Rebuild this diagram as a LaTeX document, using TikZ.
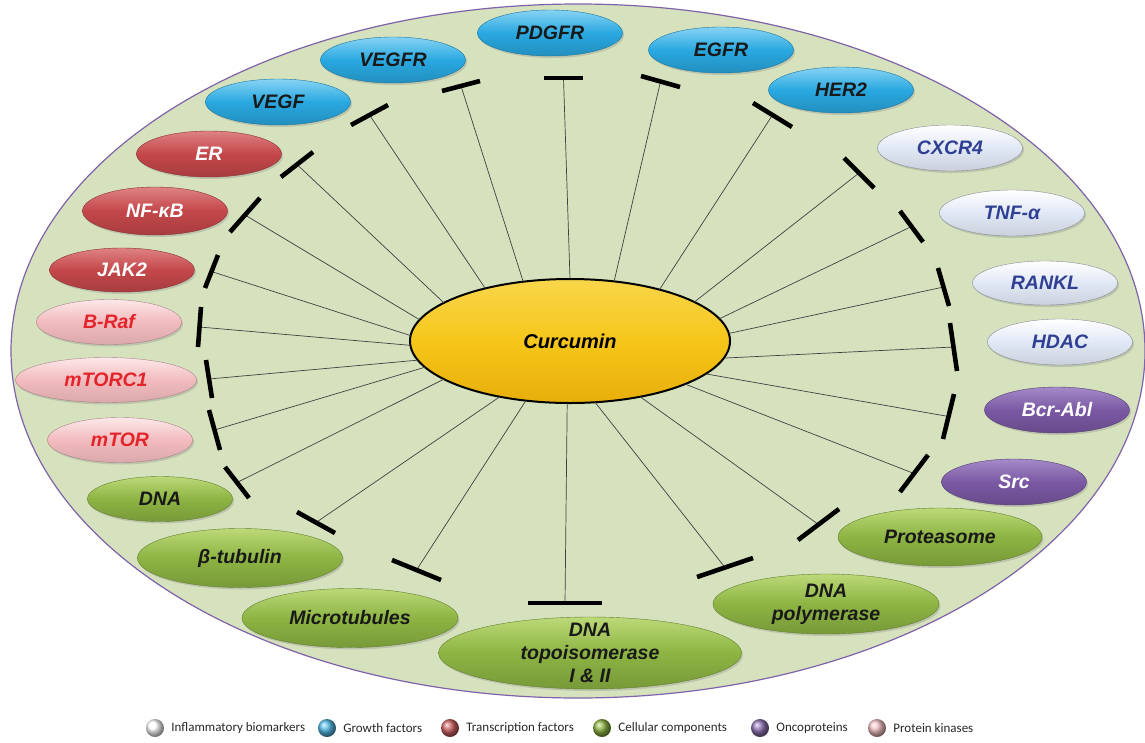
\documentclass[tikz,border=0pt]{standalone}
\usepackage{fontspec}
\setmainfont{Liberation Sans}
\newfontfamily\legfont{Carlito}
\usetikzlibrary{shapes.geometric,calc,shadows}
\definecolor{bgG}{HTML}{D6E2BE}
\definecolor{rim}{HTML}{7E63AA}
\definecolor{gfB}{HTML}{29A8E0}
\definecolor{gfL}{HTML}{86D3F4}
\definecolor{tfR}{HTML}{C4474A}
\definecolor{tfL}{HTML}{DE8283}
\definecolor{pkP}{HTML}{F2BBBE}
\definecolor{pkL}{HTML}{FCE8E9}
\definecolor{pkT}{HTML}{E3242B}
\definecolor{ibW}{HTML}{E1E8F5}
\definecolor{ibL}{HTML}{FFFFFF}
\definecolor{ibT}{HTML}{2E3F94}
\definecolor{onV}{HTML}{7A58A3}
\definecolor{onL}{HTML}{A48AC8}
\definecolor{ccG}{HTML}{8DB443}
\definecolor{ccL}{HTML}{BCD978}
\definecolor{cuY}{HTML}{F6C61A}
\definecolor{cuL}{HTML}{F9D64A}
\definecolor{cuD}{HTML}{E8AE0A}
\newcommand\myinh[6]{%
  \coordinate (#6) at ($(#2,#3)!0.5!(#4,#5)$);
  \draw[inh] ($(cur.center)+({160*cos(#1)},{-62*sin(#1)})$) -- (#6);
  \draw[inhbar] (#2,#3) -- (#4,#5);}
\begin{document}
\begin{tikzpicture}[x=1pt,y=-1pt,
  mol/.style={ellipse, inner sep=0pt, minimum width=145pt, minimum height=46pt,
    font=\fontsize{19.5}{23}\selectfont\bfseries\itshape, align=center,
    drop shadow={opacity=0.3, shadow xshift=1.5pt, shadow yshift=-2pt}},
  gf/.style={mol, draw=gfB!70!black, line width=0.4pt, top color=gfL, bottom color=gfB!85!black, middle color=gfB, text=black!90},
  tf/.style={mol, draw=tfR!70!black, line width=0.4pt, top color=tfL, bottom color=tfR!85!black, middle color=tfR, text=white},
  pk/.style={mol, draw=pkP!70!black, line width=0.4pt, top color=pkL, bottom color=pkP!90!black, middle color=pkP, text=pkT},
  ib/.style={mol, draw=ibW!60!black, line width=0.4pt, top color=ibL, bottom color=ibW!90!black, middle color=ibW, text=ibT},
  on/.style={mol, draw=onV!70!black, line width=0.4pt, top color=onL, bottom color=onV!85!black, middle color=onV, text=white},
  cc/.style={mol, draw=ccG!70!black, line width=0.4pt, top color=ccL, bottom color=ccG!85!black, middle color=ccG, text=black!90},
  inh/.style={draw=black!75, line width=0.7pt},
  inhbar/.style={draw=black, line width=4.6pt},
  legball/.style={circle, minimum size=18pt, inner sep=0pt},
  legtext/.style={anchor=west, inner sep=0pt, font=\legfont\fontsize{13}{15}\selectfont, text=black!85}]
\useasboundingbox (0,0) rectangle (1145,742);
% outer cell
\draw[fill=bgG, draw=rim, line width=1.2pt] (578,351) ellipse [x radius=567, y radius=347];
% centre
\node[ellipse, draw=black, line width=2pt, minimum width=320pt, minimum height=124pt, inner sep=0pt,
  top color=cuL, bottom color=cuD, middle color=cuY, font=\fontsize{20}{24}\selectfont\bfseries\itshape] (cur) at (570,341) {Curcumin};
% inhibition connectors
\myinh{90}{544}{78}{583}{78}{bPDGFR}
\myinh{74}{641}{76}{680}{87}{bEGFR}
\myinh{56}{753}{103}{792}{127}{bHER2}
\myinh{39}{844}{158}{874}{188}{bCXCR4}
\myinh{21}{900}{211}{923}{242}{bTNF}
\myinh{7}{938}{268}{949}{306}{bRANKL}
\myinh{-16}{950}{323}{957}{371}{bHDAC}
\myinh{-32}{954}{394}{943}{439}{bBCR}
\myinh{-44}{928}{455}{900}{492}{bSRC}
\myinh{-64}{839}{509}{798}{540}{bPROT}
\myinh{-81}{753}{558}{697}{577}{bPOL}
\myinh{-91}{602}{603}{528}{603}{bTOPO}
\myinh{-106}{441}{580}{392}{560}{bMICRO}
\myinh{-116}{335}{533}{297}{512}{bTUB}
\myinh{-142}{249}{498}{225}{467}{bDNA}
\myinh{-155}{220}{450}{209}{410}{bMTOR}
\myinh{-162}{212}{398}{206}{360}{bMTORC}
\myinh{-176}{198}{347}{201}{307}{bBRAF}
\myinh{175}{205}{288}{218}{255}{bJAK}
\myinh{160}{230}{232}{260}{198}{bNFKB}
\myinh{142}{281}{177}{313}{152}{bER}
\myinh{122}{351}{125}{388}{105}{bVEGF}
\myinh{107}{442}{91}{480}{81}{bVEGFR}
% growth factors
\node[gf] (vegf) at (278,102) {VEGF};
\node[gf] (vegfr) at (393,60) {VEGFR};
\node[gf] (pdgfr) at (550,33) {PDGFR};
\node[gf] (egfr) at (721,50) {EGFR};
\node[gf] (her2) at (841,90) {HER2};
% inflammatory biomarkers
\node[ib] (cxcr4) at (950,148) {CXCR4};
\node[ib] (tnf) at (1012,213) {TNF-α};
\node[ib, minimum height=44pt] (rankl) at (1045,283) {RANKL};
\node[ib] (hdac) at (1060,342) {HDAC};
% oncoproteins
\node[on] (bcr) at (1057,410) {Bcr-Abl};
\node[on] (src) at (1014,482) {Src};
% cellular components
\node[cc, minimum width=204pt, minimum height=58pt] (prot) at (940,537) {Proteasome};
\node[cc, minimum width=226pt, minimum height=60pt, inner ysep=-8pt] (pol) at (826,604) {DNA\\polymerase};
\node[cc, minimum width=303pt, minimum height=72pt, inner ysep=-14pt] (topo) at (590,653) {DNA\\topoisomerase\\I \& II};
\node[cc, minimum width=216pt, minimum height=59pt] (micro) at (350,618) {Microtubules};
\node[cc, minimum width=205pt, minimum height=59pt] (tub) at (240,558) {β-tubulin};
\node[cc, minimum height=45pt] (dna) at (160,499) {DNA};
% protein kinases
\node[pk, minimum height=45pt] (mtor) at (120,440) {mTOR};
\node[pk, minimum width=181pt, minimum height=45pt] (mtorc) at (106,380) {mTORC1};
\node[pk, minimum height=45pt] (braf) at (109,322) {B-Raf};
% transcription factors
\node[tf, minimum height=44pt] (jak2) at (122,270) {JAK2};
\node[tf, minimum height=48pt] (nfkb) at (155,211) {NF-κB};
\node[tf] (er) at (209,154) {ER};
% legend
\node[legball, ball color=white] (l1) at (155,728) {};
\node[legtext] (t1) at ($(l1.east)+(7,0)$) {Inflammatory biomarkers};
\node[legball, ball color=gfB!80!white] (l2) at (327,728) {};
\node[legtext] (t2) at ($(l2.east)+(7,0)$) {Growth factors};
\node[legball, ball color=tfR!85!white] (l3) at (450,728) {};
\node[legtext] (t3) at ($(l3.east)+(7,0)$) {Transcription factors};
\node[legball, ball color=ccG] (l4) at (602,728) {};
\node[legtext] (t4) at ($(l4.east)+(7,0)$) {Cellular components};
\node[legball, ball color=onV!85!white] (l5) at (760,728) {};
\node[legtext] (t5) at ($(l5.east)+(7,0)$) {Oncoproteins};
\node[legball, ball color=pkP!90!white] (l6) at (877,728) {};
\node[legtext] (t6) at ($(l6.east)+(7,0)$) {Protein kinases};
\end{tikzpicture}
\end{document}
